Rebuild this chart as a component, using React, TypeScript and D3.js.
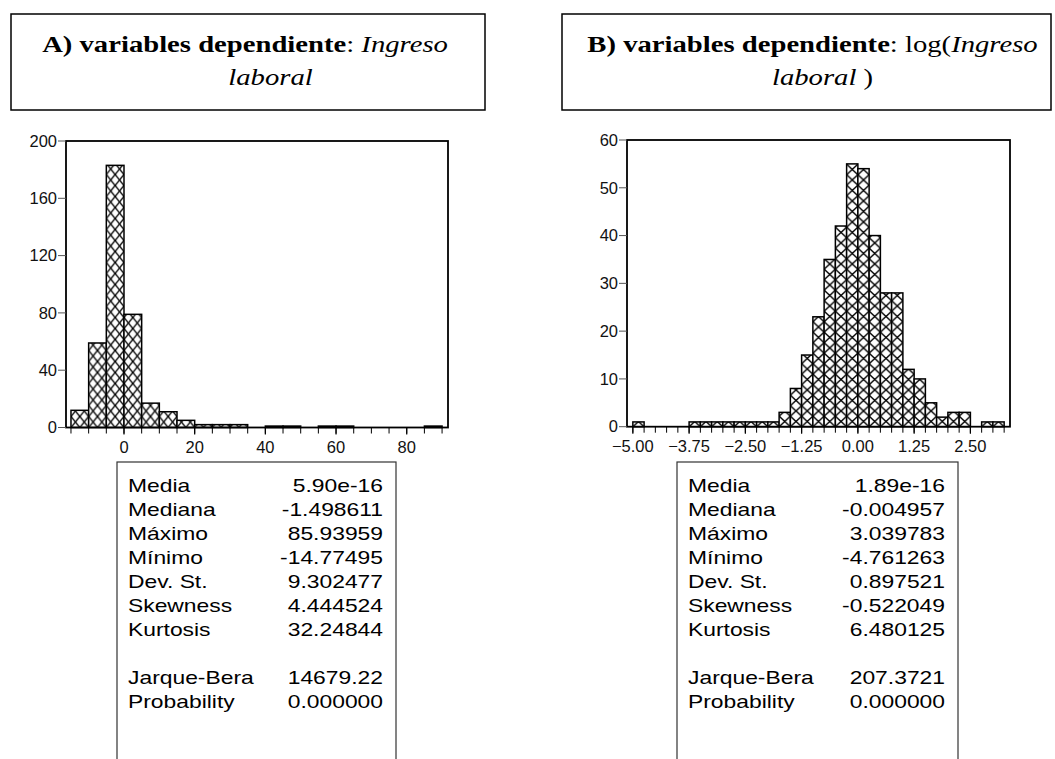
import React from "react";
import * as d3 from "d3";

// histogram A: Ingreso laboral, bins of 5 starting at -15
const countsA = [12, 59, 183, 79, 17, 11, 5, 2, 2, 2, 0, 1, 1, 0, 1, 1, 0, 0, 0, 0, 1];
const binStartA = -15;
const binWidthA = 5;
const xLabelsA = [0, 20, 40, 60, 80];
const yTicksA = [0, 40, 80, 120, 160, 200];

// histogram B: log(Ingreso laboral), bins of 0.25 starting at -5
const countsB = [1, 0, 0, 0, 0, 1, 1, 1, 1, 1, 1, 1, 1, 3, 8, 15, 23, 35, 42, 55, 54, 40, 28, 28, 12, 10, 5, 2, 3, 3, 0, 1, 1];
const binStartB = -5;
const binWidthB = 0.25;
const xLabelsB = [-5, -3.75, -2.5, -1.25, 0, 1.25, 2.5];
const yTicksB = [0, 10, 20, 30, 40, 50, 60];

const statNames = ["Media", "Mediana", "Máximo", "Mínimo", "Dev. St.", "Skewness", "Kurtosis", "", "Jarque-Bera", "Probability"];
const statsA = ["5.90e-16", "-1.498611", "85.93959", "-14.77495", "9.302477", "4.444524", "32.24844", "", "14679.22", "0.000000"];
const statsB = ["1.89e-16", "-0.004957", "3.039783", "-4.761263", "0.897521", "-0.522049", "6.480125", "", "207.3721", "0.000000"];

const SERIF = "'Liberation Serif', 'Times New Roman', serif";
const SANS = "'Liberation Sans', Arial, sans-serif";

type HistProps = {
  id: string;
  counts: number[];
  binStart: number;
  binWidth: number;
  xDomain: [number, number];
  left: number;
  right: number;
  top: number;
  bottom: number;
  yMax: number;
  yTicks: number[];
  xLabels: number[];
  fmt: (v: number) => string;
  patH: number;
  patDiv: number;
};

function Histogram(p: HistProps) {
  const x = d3.scaleLinear().domain(p.xDomain).range([p.left, p.right]);
  const y = d3.scaleLinear().domain([0, p.yMax]).range([p.bottom, p.top]);
  const bins = p.counts.map((c, i) => ({ x0: p.binStart + i * p.binWidth, x1: p.binStart + (i + 1) * p.binWidth, c }));
  const edges = d3.range(p.counts.length + 1).map((i) => p.binStart + i * p.binWidth);
  const patW = (x(p.binWidth) - x(0)) / p.patDiv;

  return (
    <g>
      <defs>
        <pattern id={p.id} patternUnits="userSpaceOnUse" width={patW} height={p.patH} x={x(p.binStart)} y={p.bottom}>
          <rect width={patW} height={p.patH} fill="#fff" />
          <line x1={0} y1={0} x2={patW} y2={p.patH} stroke="#000" strokeWidth={1.4} />
          <line x1={patW} y1={0} x2={0} y2={p.patH} stroke="#000" strokeWidth={1.4} />
        </pattern>
      </defs>
      {bins.filter((b) => b.c > 0).map((b, i) => (
        <rect key={i} x={x(b.x0)} y={y(b.c)} width={x(b.x1) - x(b.x0)} height={y(0) - y(b.c)}
          fill={`url(#${p.id})`} stroke="#000" strokeWidth={1.5} />
      ))}
      <rect x={p.left} y={p.top} width={p.right - p.left} height={p.bottom - p.top} fill="none" stroke="#000" strokeWidth={1.8} />
      {edges.map((e, i) => (
        <line key={i} x1={x(e)} x2={x(e)} y1={p.bottom} y2={p.bottom + 6} stroke="#000" strokeWidth={1} />
      ))}
      {p.xLabels.map((v, i) => (
        <g key={i}>
          <line x1={x(v)} x2={x(v)} y1={p.bottom} y2={p.bottom + 7} stroke="#000" strokeWidth={1.2} />
          <text x={x(v)} y={p.bottom + 25} textAnchor="middle" fontFamily={SANS} fontSize={16.5} fill="#111">{p.fmt(v)}</text>
        </g>
      ))}
      {p.yTicks.map((v, i) => (
        <g key={i}>
          <line x1={p.left - 8} x2={p.left} y1={y(v)} y2={y(v)} stroke="#555" strokeWidth={1} />
          <text x={p.left - 9} y={y(v)} dy="0.35em" textAnchor="end" fontFamily={SANS} fontSize={16.5} fill="#111">{v}</text>
        </g>
      ))}
    </g>
  );
}

function StatsBox({ x0, values, labelX, valueX }: { x0: number; values: string[]; labelX: number; valueX: number }) {
  const row = d3.scaleLinear().domain([0, 1]).range([492, 516]);
  return (
    <g>
      <rect x={x0} y={462} width={valueX - x0 + 13} height={340} fill="none" stroke="#333" strokeWidth={1.2} />
      {statNames.map((n, i) => (
        <g key={i} fontFamily={SANS} fontSize={18} fill="#000">
          <text transform={`translate(${labelX},${row(i)}) scale(1.27,1)`}>{n}</text>
          <text transform={`translate(${valueX},${row(i)}) scale(1.27,1)`} textAnchor="end">{values[i]}</text>
        </g>
      ))}
    </g>
  );
}

function TitleBox({ x0, x1, line1, line2 }: { x0: number; x1: number; line1: React.ReactNode; line2: { cx: number; content: React.ReactNode } }) {
  return (
    <g fontFamily={SERIF} fontSize={23.5} fill="#000">
      <rect x={x0} y={14} width={x1 - x0} height={96} fill="none" stroke="#000" strokeWidth={1.5} />
      {line1}
      <text transform={`translate(${line2.cx},85) scale(1.22,1)`} textAnchor="middle">{line2.content}</text>
    </g>
  );
}

export default function App() {
  const fmtB = (v: number) => d3.format(".2f")(v);
  return (
    <svg width={1055} height={759} style={{ position: "absolute", left: 0, top: 0, background: "#fff" }}>
      <rect width={1055} height={759} fill="#fff" />
      <TitleBox
        x0={11}
        x1={485}
        line1={
          <text transform="translate(245,52) scale(1.22,1)" textAnchor="middle">
            <tspan fontWeight="bold">A) variables dependiente</tspan>
            <tspan>: </tspan>
            <tspan fontStyle="italic">Ingreso</tspan>
          </text>
        }
        line2={{ cx: 270.5, content: <tspan fontStyle="italic">laboral</tspan> }}
      />
      <TitleBox
        x0={562}
        x1={1051}
        line1={
          <text transform="translate(812.5,52) scale(1.22,1)" textAnchor="middle">
            <tspan fontWeight="bold">B) variables dependiente</tspan>
            <tspan>: log(</tspan>
            <tspan fontStyle="italic">Ingreso</tspan>
          </text>
        }
        line2={{ cx: 822.5, content: <><tspan fontStyle="italic">laboral</tspan><tspan> )</tspan></> }}
      />
      <Histogram
        id="hatchA"
        counts={countsA}
        binStart={binStartA}
        binWidth={binWidthA}
        xDomain={[-16.41, 91.68]}
        left={66}
        right={448}
        top={141}
        bottom={427.5}
        yMax={200}
        yTicks={yTicksA}
        xLabels={xLabelsA}
        fmt={(v) => String(v)}
        patH={11}
        patDiv={2}
      />
      <Histogram
        id="hatchB"
        counts={countsB}
        binStart={binStartB}
        binWidth={binWidthB}
        xDomain={[-5.13, 3.38]}
        left={627}
        right={1010}
        top={140}
        bottom={426.7}
        yMax={60}
        yTicks={yTicksB}
        xLabels={xLabelsB}
        fmt={fmtB}
        patH={10.5}
        patDiv={1}
      />
      <StatsBox x0={117} values={statsA} labelX={128} valueX={383} />
      <StatsBox x0={677} values={statsB} labelX={688} valueX={945} />
    </svg>
  );
}
